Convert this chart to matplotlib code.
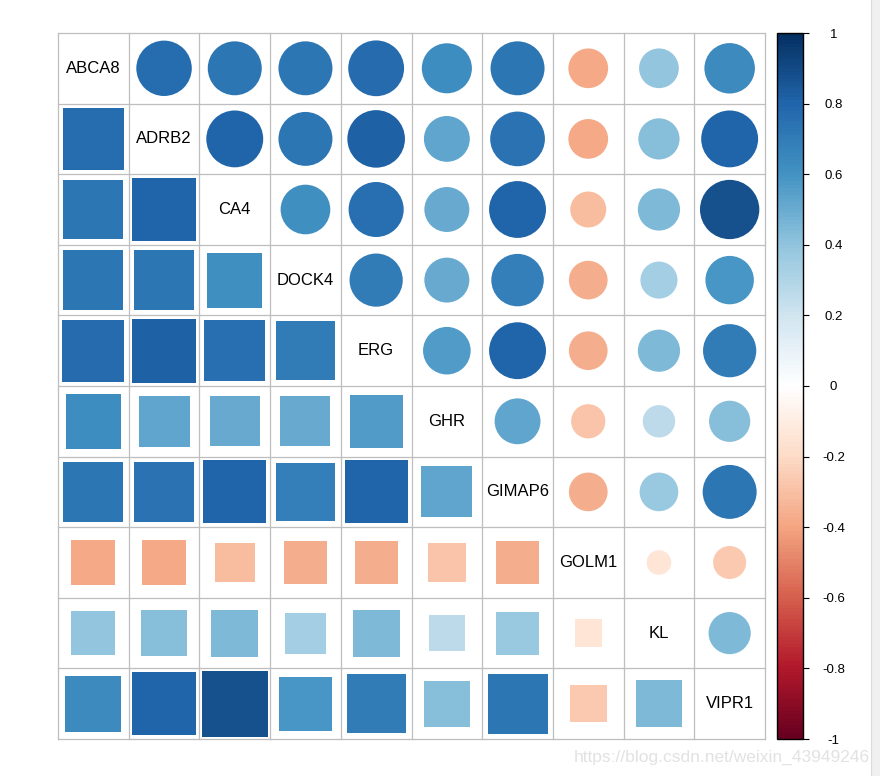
import numpy as np
import matplotlib
matplotlib.use("Agg")
import matplotlib.pyplot as plt
from matplotlib.colors import LinearSegmentedColormap, Normalize
from matplotlib.patches import Circle, Rectangle
import matplotlib.cm as cm

genes = ["ABCA8", "ADRB2", "CA4", "DOCK4", "ERG", "GHR", "GIMAP6", "GOLM1", "KL", "VIPR1"]

# lower-triangle correlations (row i vs columns 0..i-1)
r_ADRB2 = [0.76]
r_CA4 = [0.72, 0.80]
r_DOCK4 = [0.72, 0.72, 0.61]
r_ERG = [0.77, 0.82, 0.75, 0.70]
r_GHR = [0.62, 0.52, 0.50, 0.50, 0.56]
r_GIMAP6 = [0.72, 0.74, 0.80, 0.68, 0.80, 0.52]
r_GOLM1 = [-0.39, -0.39, -0.32, -0.37, -0.37, -0.29, -0.37]
r_KL = [0.39, 0.42, 0.44, 0.34, 0.44, 0.26, 0.37, -0.15]
r_VIPR1 = [0.63, 0.80, 0.87, 0.58, 0.70, 0.42, 0.72, -0.27, 0.44]

cbar_ticks = [1, 0.8, 0.6, 0.4, 0.2, 0, -0.2, -0.4, -0.6, -0.8, -1]
cbar_labels = ["1", "0.8", "0.6", "0.4", "0.2", "0", "-0.2", "-0.4", "-0.6", "-0.8", "-1"]

lower_rows = [[], r_ADRB2, r_CA4, r_DOCK4, r_ERG, r_GHR, r_GIMAP6, r_GOLM1, r_KL, r_VIPR1]
n = len(genes)
M = np.eye(n)
for i, row in enumerate(lower_rows):
    for j, v in enumerate(row):
        M[i, j] = v
        M[j, i] = v

col2 = ["#67001F", "#B2182B", "#D6604D", "#F4A582", "#FDDBC7", "#FFFFFF",
        "#D1E5F0", "#92C5DE", "#4393C3", "#2166AC", "#053061"]
cmap = LinearSegmentedColormap.from_list("rdbu", col2, N=200)
norm = Normalize(-1, 1)

plt.rcParams['font.family'] = ['Liberation Sans', 'DejaVu Sans']

W, H = 880, 776
fig = plt.figure(figsize=(W / 100, H / 100), dpi=100)

# right gray strip
fig.patches.append(Rectangle((871 / W, 0), 9 / W, 1, transform=fig.transFigure,
                             facecolor="#f0f0f0", edgecolor="none", zorder=0))
fig.lines.append(plt.Line2D([871 / W, 871 / W], [0, 1], transform=fig.transFigure,
                            color="#dcdcdc", lw=0.8))

ax = fig.add_axes([58 / W, (H - 739) / H, 707 / W, 706 / H])
ax.set_xlim(0, n)
ax.set_ylim(n, 0)
ax.axis("off")

for i in range(n):
    for j in range(n):
        v = M[i, j]
        c = cmap(norm(v))
        if i == j:
            ax.text(j + 0.5, i + 0.5, genes[i], ha="center", va="center",
                    fontsize=12, color="black")
        elif j > i:
            rad = 0.45 * np.sqrt(abs(v))
            ax.add_patch(Circle((j + 0.5, i + 0.5), rad, facecolor=c, edgecolor="none"))
        else:
            s = np.sqrt(abs(v))
            ax.add_patch(Rectangle((j + 0.5 - s / 2, i + 0.5 - s / 2), s, s,
                                   facecolor=c, edgecolor="none"))

for k in range(n + 1):
    ax.plot([k, k], [0, n], color="#BEBEBE", lw=0.9, zorder=3, clip_on=False)
    ax.plot([0, n], [k, k], color="#BEBEBE", lw=0.9, zorder=3, clip_on=False)

cax = fig.add_axes([777 / W, (H - 739) / H, 26 / W, 706 / H])
sm = cm.ScalarMappable(norm=norm, cmap=cmap)
cb = fig.colorbar(sm, cax=cax)
cb.outline.set_edgecolor("black")
cb.outline.set_linewidth(1.0)
cb.set_ticks(cbar_ticks)
cb.set_ticklabels(cbar_labels)
cax.tick_params(axis="y", length=4, width=0.8, color="black", labelsize=9.5, pad=18)
for lbl in cax.get_yticklabels():
    lbl.set_horizontalalignment("center")

fig.text(870 / W, (H - 757) / H, "https://blog.csdn.net/weixin_43949246",
         ha="right", va="center", fontsize=12.5, color="#e2e2e2")

fig.savefig("out.png", dpi=100)
